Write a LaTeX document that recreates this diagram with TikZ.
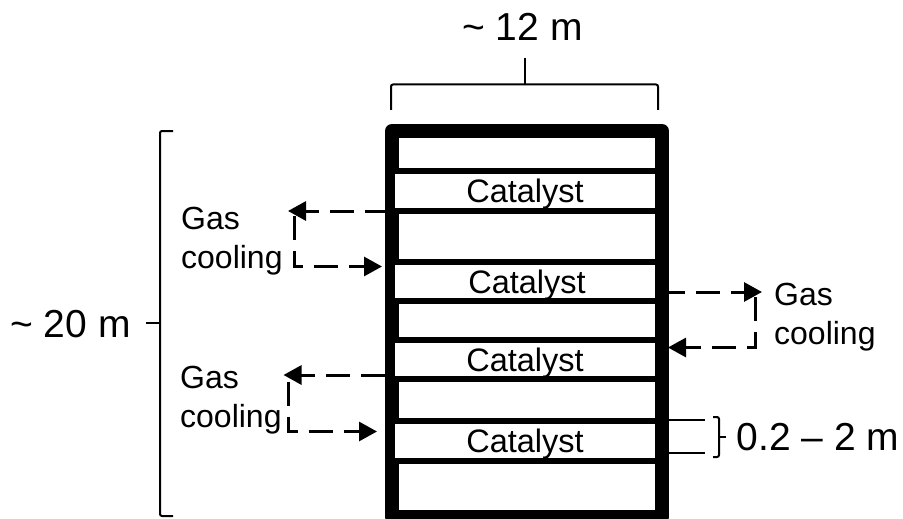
\documentclass[tikz,border=0pt]{standalone}
\usepackage{fontspec}
\setmainfont{Liberation Sans}
\usetikzlibrary{positioning, calc, arrows.meta}

\begin{document}
\begin{tikzpicture}[
        x=1pt, y=-1pt,
        % Style for the catalyst beds
        bed_cell/.style={
            draw,
            fill=white,
            line width=6pt,
            minimum width=266pt,
            outer sep=0pt,
            inner sep=0pt,
            text depth=0pt,
            font=\fontsize{32.5}{36}\selectfont
        },
        % Style for the dashed gas lines
        gas_arrow/.style={
            -{Triangle[length=18pt, width=19pt]},
            line width=3pt,
            dash pattern=on 24pt off 11pt
        },
        % Style for the size brackets
        size_line/.style={
            line width=2pt,
            rounded corners=2pt
        },
        % Style for the size labels
        size_text/.style={
            inner sep=0pt,
            text depth=0pt,
            font=\fontsize{39}{44}\selectfont
        },
        % Style for the cooling labels
        cool_text/.style={
            anchor=west,
            align=left,
            inner sep=0pt,
            font=\fontsize{32}{39.5}\selectfont
        }
    ]
    \useasboundingbox (0,0) rectangle (903,519);

    % ==========================================
    % VESSEL AND CATALYST BEDS
    % ==========================================
    \node[draw, line width=14pt, line join=round, minimum width=270pt, minimum height=386pt] (V) at (527, 324) {};

    \node[bed_cell, minimum height=40pt] (B1) at (525, 191) {Catalyst};
    \node[bed_cell, minimum height=39.5pt] (B2) at (525, 281.25) {\hspace{4pt}Catalyst};
    \node[bed_cell, minimum height=39.5pt] (B3) at (525, 359.25) {Catalyst};
    \node[bed_cell, minimum height=40pt] (B4) at (525, 441) {Catalyst};

    % ==========================================
    % GAS COOLING LOOPS
    % ==========================================
    \node[cool_text] (G1) at (181, 241) {Gas\\cooling};
    \node[cool_text] (G2) at (180, 400) {Gas\\cooling};
    \node[cool_text] (G3) at (774, 317) {Gas\\cooling};

    \coordinate (T1) at (288, 211);
    \coordinate (S1) at (294.5, 216);
    \coordinate (E1) at (382, 266.5);
    \coordinate (T2) at (283.5, 375);
    \coordinate (S2) at (288.5, 381.5);
    \coordinate (E2) at (377, 431.5);
    \coordinate (T3) at (762, 292);
    \coordinate (S3) at (755, 297);
    \coordinate (E3) at (668, 347.5);

    \draw[gas_arrow, dash phase=4pt] (V.west |- T1) -- (T1);
    \draw[gas_arrow] (S1) |- (E1);
    \draw[gas_arrow] (V.west |- T2) -- (T2);
    \draw[gas_arrow] (S2) |- (E2);
    \draw[gas_arrow, dash phase=8pt] (V.east |- T3) -- (T3);
    \draw[gas_arrow] (S3) |- (E3);

    % ==========================================
    % SIZE ANNOTATIONS
    % ==========================================
    \node[size_text] (W) at (522.5, 27) {\textasciitilde{} 12 m};
    \node[size_text] (H) at (70.5, 324) {\textasciitilde{} 20 m};
    \node[size_text] (D) at (818, 437) {0.2 -- 2 m};

    % Bracket over the vessel
    \coordinate (W0) at (525, 58);
    \draw[size_line] (391, 110) |- (658, 84.5) -- (658, 110);
    \draw[line width=2pt] (W0) -- (W0 |- 0,84.5);

    % Bracket along the vessel
    \coordinate (H0) at (160, 323);
    \draw[size_line] (173, 131) -| (H0) |- (173, 516);
    \draw[line width=2pt] (H0) -- ++(-14, 0);

    % Bracket beside the fourth bed
    \coordinate (D0) at (719, 437);
    \coordinate (D1) at (705, 420);
    \coordinate (D2) at (705, 452.5);
    \draw[line width=2pt] (V.east |- D1) -- (D1);
    \draw[line width=2pt] (V.east |- D2) -- (D2);
    \draw[size_line] (713, 417) -| (D0) |- (713, 457);
    \draw[line width=2pt] (D0) -- ++(7, 0);

\end{tikzpicture}
\end{document}
